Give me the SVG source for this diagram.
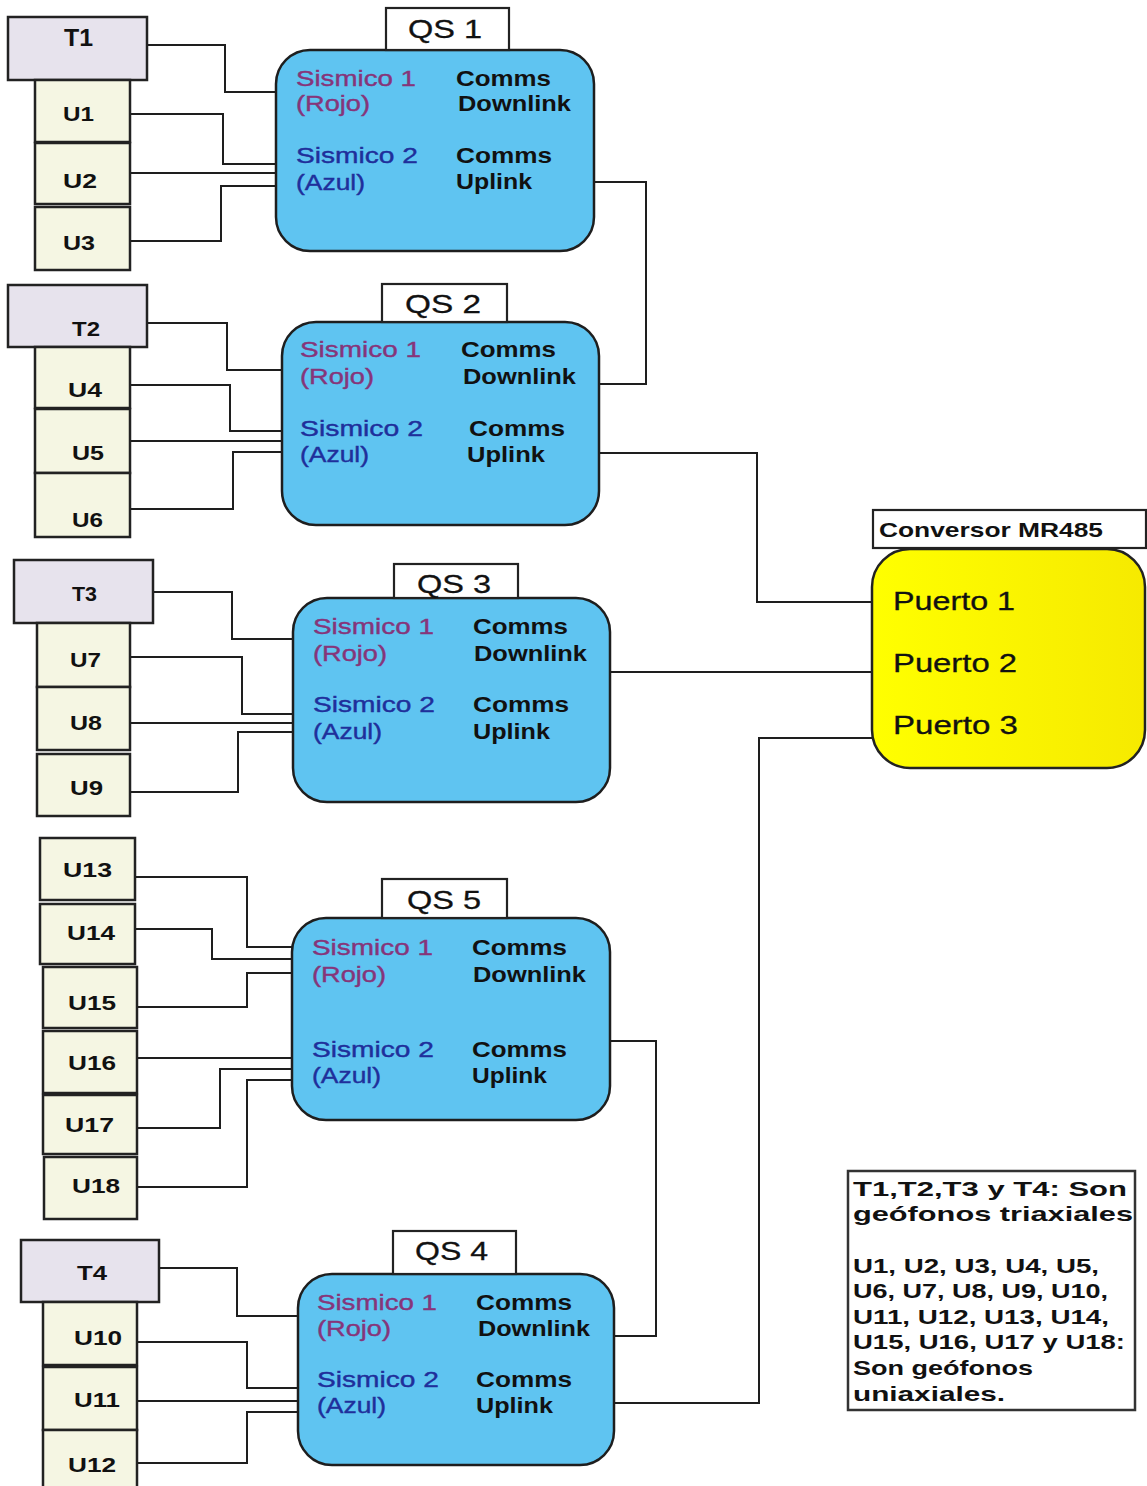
<svg xmlns="http://www.w3.org/2000/svg" width="1147" height="1486" viewBox="0 0 1147 1486">
  <defs>
    <style>
      .tbox { fill: #e7e3ed; stroke: #222; stroke-width: 2.5; }
      .ubox { fill: #f5f6e3; stroke: #222; stroke-width: 2.5; }
      .qs   { fill: #5fc4f1; stroke: #1e1e1e; stroke-width: 2.5; }
      .lbl  { fill: #fff; stroke: #222; stroke-width: 2.2; }
      .conv { fill: url(#yel); stroke: #222; stroke-width: 2.5; }
      .legend { fill: #fff; stroke: #333; stroke-width: 2.5; }
      .wire { fill: none; stroke: #1e1e1e; stroke-width: 2; }
      text { font-family: "Liberation Sans", Arial, sans-serif; }
      .tl { font-size: 20px; font-weight: bold; fill: #111; }
      .t1 { font-size: 24px; font-weight: bold; fill: #111; }
      .ul { font-size: 21px; font-weight: bold; fill: #111; }
      .qn { font-size: 25px; fill: #111; stroke: #111; stroke-width: 0.3; }
      .s1 { font-size: 22px; fill: #86357a; stroke: #86357a; stroke-width: 0.4; }
      .s2 { font-size: 22px; fill: #1f2f9b; stroke: #1f2f9b; stroke-width: 0.4; }
      .cm { font-size: 22px; font-weight: bold; fill: #111; }
      .pt { font-size: 25px; fill: #111; stroke: #111; stroke-width: 0.3; }
      .cv { font-size: 21px; font-weight: bold; fill: #111; }
      .lg { font-size: 21px; font-weight: bold; fill: #111; }
    </style>
    <linearGradient id="yel" x1="0" y1="0" x2="1" y2="0">
      <stop offset="0" stop-color="#ffff00"/>
      <stop offset="1" stop-color="#f6ea00"/>
    </linearGradient>
  </defs>

  <rect x="0" y="0" width="1147" height="1486" fill="#fff"/>

  <!-- wiring between geophones, QS units and the converter -->
  <g id="connectors">
    <path class="wire" d="M147,45 H225 V92 H276"/>
    <path class="wire" d="M130,114 H223 V164 H276"/>
    <path class="wire" d="M130,173 H276"/>
    <path class="wire" d="M130,241 H221 V186 H276"/>

    <path class="wire" d="M147,323 H227 V370 H282"/>
    <path class="wire" d="M130,385 H230 V431 H282"/>
    <path class="wire" d="M130,441 H282"/>
    <path class="wire" d="M130,509 H233 V452 H282"/>

    <path class="wire" d="M153,592 H232 V639 H293"/>
    <path class="wire" d="M130,657 H242 V714 H293"/>
    <path class="wire" d="M130,723 H293"/>
    <path class="wire" d="M130,792 H238 V732 H293"/>

    <path class="wire" d="M135,877 H247 V947 H292"/>
    <path class="wire" d="M135,929 H212 V959 H292"/>
    <path class="wire" d="M137,1007 H247 V973 H292"/>
    <path class="wire" d="M137,1058 H292"/>
    <path class="wire" d="M137,1128 H220 V1069 H292"/>
    <path class="wire" d="M137,1187 H247 V1080 H292"/>

    <path class="wire" d="M159,1268 H237 V1316 H298"/>
    <path class="wire" d="M137,1342 H247 V1388 H298"/>
    <path class="wire" d="M137,1401 H298"/>
    <path class="wire" d="M137,1463 H247 V1412 H298"/>

    <path class="wire" d="M594,182 H646 V384 H599"/>
    <path class="wire" d="M599,453 H757 V602 H872"/>
    <path class="wire" d="M610,672 H872"/>
    <path class="wire" d="M610,1041 H656 V1336 H614"/>
    <path class="wire" d="M614,1403 H759 V738 H872"/>
  </g>

  <!-- geophones, group 1 -->
  <g id="T1"><rect class="tbox" x="8" y="17" width="139" height="63"/><text class="t1" x="64" y="46" textLength="29" lengthAdjust="spacingAndGlyphs">T1</text></g>
  <g id="U1"><rect class="ubox" x="35" y="80" width="95" height="62"/><text class="ul" x="63" y="121" textLength="31" lengthAdjust="spacingAndGlyphs">U1</text></g>
  <g id="U2"><rect class="ubox" x="35" y="143" width="95" height="61"/><text class="ul" x="63" y="188" textLength="34" lengthAdjust="spacingAndGlyphs">U2</text></g>
  <g id="U3"><rect class="ubox" x="35" y="207" width="95" height="63"/><text class="ul" x="63" y="250" textLength="32" lengthAdjust="spacingAndGlyphs">U3</text></g>

  <!-- geophones, group 2 -->
  <g id="T2"><rect class="tbox" x="8" y="285" width="139" height="62"/><text class="tl" x="72" y="336" textLength="28" lengthAdjust="spacingAndGlyphs">T2</text></g>
  <g id="U4"><rect class="ubox" x="35" y="347" width="95" height="61"/><text class="ul" x="68" y="397" textLength="34" lengthAdjust="spacingAndGlyphs">U4</text></g>
  <g id="U5"><rect class="ubox" x="35" y="409" width="95" height="64"/><text class="ul" x="72" y="460" textLength="32" lengthAdjust="spacingAndGlyphs">U5</text></g>
  <g id="U6"><rect class="ubox" x="35" y="473" width="95" height="64"/><text class="ul" x="72" y="527" textLength="31" lengthAdjust="spacingAndGlyphs">U6</text></g>

  <!-- geophones, group 3 -->
  <g id="T3"><rect class="tbox" x="14" y="560" width="139" height="63"/><text class="tl" x="72" y="601" textLength="25" lengthAdjust="spacingAndGlyphs">T3</text></g>
  <g id="U7"><rect class="ubox" x="37" y="623" width="93" height="64"/><text class="ul" x="70" y="667" textLength="31" lengthAdjust="spacingAndGlyphs">U7</text></g>
  <g id="U8"><rect class="ubox" x="37" y="687" width="93" height="63"/><text class="ul" x="70" y="730" textLength="32" lengthAdjust="spacingAndGlyphs">U8</text></g>
  <g id="U9"><rect class="ubox" x="37" y="754" width="93" height="62"/><text class="ul" x="70" y="795" textLength="33" lengthAdjust="spacingAndGlyphs">U9</text></g>

  <!-- geophones, group 5 -->
  <g id="U13"><rect class="ubox" x="40" y="838" width="95" height="62"/><text class="ul" x="63" y="877" textLength="49" lengthAdjust="spacingAndGlyphs">U13</text></g>
  <g id="U14"><rect class="ubox" x="40" y="904" width="95" height="60"/><text class="ul" x="67" y="940" textLength="48" lengthAdjust="spacingAndGlyphs">U14</text></g>
  <g id="U15"><rect class="ubox" x="43" y="967" width="94" height="61"/><text class="ul" x="68" y="1010" textLength="48" lengthAdjust="spacingAndGlyphs">U15</text></g>
  <g id="U16"><rect class="ubox" x="43" y="1031" width="94" height="62"/><text class="ul" x="68" y="1070" textLength="48" lengthAdjust="spacingAndGlyphs">U16</text></g>
  <g id="U17"><rect class="ubox" x="43" y="1095" width="94" height="59"/><text class="ul" x="65" y="1132" textLength="49" lengthAdjust="spacingAndGlyphs">U17</text></g>
  <g id="U18"><rect class="ubox" x="44" y="1157" width="93" height="62"/><text class="ul" x="72" y="1193" textLength="48" lengthAdjust="spacingAndGlyphs">U18</text></g>

  <!-- geophones, group 4 -->
  <g id="T4"><rect class="tbox" x="21" y="1240" width="138" height="62"/><text class="tl" x="77" y="1280" textLength="30" lengthAdjust="spacingAndGlyphs">T4</text></g>
  <g id="U10"><rect class="ubox" x="43" y="1302" width="94" height="63"/><text class="ul" x="74" y="1345" textLength="48" lengthAdjust="spacingAndGlyphs">U10</text></g>
  <g id="U11"><rect class="ubox" x="43" y="1367" width="94" height="63"/><text class="ul" x="74" y="1407" textLength="46" lengthAdjust="spacingAndGlyphs">U11</text></g>
  <g id="U12"><rect class="ubox" x="43" y="1430" width="94" height="62"/><text class="ul" x="68" y="1472" textLength="48" lengthAdjust="spacingAndGlyphs">U12</text></g>

  <!-- QS recorders -->
  <g id="QS1">
    <rect class="qs" x="276" y="50" width="318" height="201" rx="34"/>
    <rect class="lbl" x="386" y="8" width="123" height="42"/>
    <text class="qn" x="408" y="38" textLength="74" lengthAdjust="spacingAndGlyphs">QS 1</text>
    <text class="s1" x="296" y="86" textLength="120" lengthAdjust="spacingAndGlyphs">Sismico 1</text>
    <text class="s1" x="296" y="111" textLength="74" lengthAdjust="spacingAndGlyphs">(Rojo)</text>
    <text class="s2" x="296" y="163" textLength="122" lengthAdjust="spacingAndGlyphs">Sismico 2</text>
    <text class="s2" x="296" y="190" textLength="69" lengthAdjust="spacingAndGlyphs">(Azul)</text>
    <text class="cm" x="456" y="86" textLength="95" lengthAdjust="spacingAndGlyphs">Comms</text>
    <text class="cm" x="458" y="111" textLength="113" lengthAdjust="spacingAndGlyphs">Downlink</text>
    <text class="cm" x="456" y="163" textLength="96" lengthAdjust="spacingAndGlyphs">Comms</text>
    <text class="cm" x="456" y="189" textLength="76" lengthAdjust="spacingAndGlyphs">Uplink</text>
  </g>

  <g id="QS2">
    <rect class="qs" x="282" y="322" width="317" height="203" rx="34"/>
    <rect class="lbl" x="382" y="284" width="125" height="38"/>
    <text class="qn" x="405" y="313" textLength="76" lengthAdjust="spacingAndGlyphs">QS 2</text>
    <text class="s1" x="300" y="357" textLength="121" lengthAdjust="spacingAndGlyphs">Sismico 1</text>
    <text class="s1" x="300" y="384" textLength="74" lengthAdjust="spacingAndGlyphs">(Rojo)</text>
    <text class="s2" x="300" y="436" textLength="123" lengthAdjust="spacingAndGlyphs">Sismico 2</text>
    <text class="s2" x="300" y="462" textLength="69" lengthAdjust="spacingAndGlyphs">(Azul)</text>
    <text class="cm" x="461" y="357" textLength="95" lengthAdjust="spacingAndGlyphs">Comms</text>
    <text class="cm" x="463" y="384" textLength="113" lengthAdjust="spacingAndGlyphs">Downlink</text>
    <text class="cm" x="469" y="436" textLength="96" lengthAdjust="spacingAndGlyphs">Comms</text>
    <text class="cm" x="467" y="462" textLength="78" lengthAdjust="spacingAndGlyphs">Uplink</text>
  </g>

  <g id="QS3">
    <rect class="qs" x="293" y="598" width="317" height="204" rx="34"/>
    <rect class="lbl" x="394" y="564" width="124" height="34"/>
    <text class="qn" x="417" y="593" textLength="74" lengthAdjust="spacingAndGlyphs">QS 3</text>
    <text class="s1" x="313" y="634" textLength="121" lengthAdjust="spacingAndGlyphs">Sismico 1</text>
    <text class="s1" x="313" y="661" textLength="74" lengthAdjust="spacingAndGlyphs">(Rojo)</text>
    <text class="s2" x="313" y="712" textLength="122" lengthAdjust="spacingAndGlyphs">Sismico 2</text>
    <text class="s2" x="313" y="739" textLength="69" lengthAdjust="spacingAndGlyphs">(Azul)</text>
    <text class="cm" x="473" y="634" textLength="95" lengthAdjust="spacingAndGlyphs">Comms</text>
    <text class="cm" x="474" y="661" textLength="113" lengthAdjust="spacingAndGlyphs">Downlink</text>
    <text class="cm" x="473" y="712" textLength="96" lengthAdjust="spacingAndGlyphs">Comms</text>
    <text class="cm" x="473" y="739" textLength="77" lengthAdjust="spacingAndGlyphs">Uplink</text>
  </g>

  <g id="QS5">
    <rect class="qs" x="292" y="918" width="318" height="202" rx="34"/>
    <rect class="lbl" x="382" y="879" width="125" height="39"/>
    <text class="qn" x="407" y="909" textLength="74" lengthAdjust="spacingAndGlyphs">QS 5</text>
    <text class="s1" x="312" y="955" textLength="121" lengthAdjust="spacingAndGlyphs">Sismico 1</text>
    <text class="s1" x="312" y="982" textLength="74" lengthAdjust="spacingAndGlyphs">(Rojo)</text>
    <text class="s2" x="312" y="1057" textLength="122" lengthAdjust="spacingAndGlyphs">Sismico 2</text>
    <text class="s2" x="312" y="1083" textLength="69" lengthAdjust="spacingAndGlyphs">(Azul)</text>
    <text class="cm" x="472" y="955" textLength="95" lengthAdjust="spacingAndGlyphs">Comms</text>
    <text class="cm" x="473" y="982" textLength="113" lengthAdjust="spacingAndGlyphs">Downlink</text>
    <text class="cm" x="472" y="1057" textLength="95" lengthAdjust="spacingAndGlyphs">Comms</text>
    <text class="cm" x="472" y="1083" textLength="75" lengthAdjust="spacingAndGlyphs">Uplink</text>
  </g>

  <g id="QS4">
    <rect class="qs" x="298" y="1274" width="316" height="191" rx="34"/>
    <rect class="lbl" x="393" y="1231" width="123" height="43"/>
    <text class="qn" x="415" y="1260" textLength="73" lengthAdjust="spacingAndGlyphs">QS 4</text>
    <text class="s1" x="317" y="1310" textLength="120" lengthAdjust="spacingAndGlyphs">Sismico 1</text>
    <text class="s1" x="317" y="1336" textLength="74" lengthAdjust="spacingAndGlyphs">(Rojo)</text>
    <text class="s2" x="317" y="1387" textLength="122" lengthAdjust="spacingAndGlyphs">Sismico 2</text>
    <text class="s2" x="317" y="1413" textLength="69" lengthAdjust="spacingAndGlyphs">(Azul)</text>
    <text class="cm" x="476" y="1310" textLength="96" lengthAdjust="spacingAndGlyphs">Comms</text>
    <text class="cm" x="478" y="1336" textLength="112" lengthAdjust="spacingAndGlyphs">Downlink</text>
    <text class="cm" x="476" y="1387" textLength="96" lengthAdjust="spacingAndGlyphs">Comms</text>
    <text class="cm" x="476" y="1413" textLength="77" lengthAdjust="spacingAndGlyphs">Uplink</text>
  </g>

  <!-- RS-485 converter -->
  <g id="conversor">
    <rect class="conv" x="872" y="549" width="273" height="219" rx="38"/>
    <rect class="lbl" x="873" y="510" width="273" height="38"/>
    <text class="cv" x="879" y="537" textLength="224" lengthAdjust="spacingAndGlyphs">Conversor MR485</text>
    <text class="pt" x="893" y="610" textLength="122" lengthAdjust="spacingAndGlyphs">Puerto 1</text>
    <text class="pt" x="893" y="672" textLength="124" lengthAdjust="spacingAndGlyphs">Puerto 2</text>
    <text class="pt" x="893" y="734" textLength="125" lengthAdjust="spacingAndGlyphs">Puerto 3</text>
  </g>

  <!-- legend -->
  <g id="leyenda">
    <rect class="legend" x="848" y="1171" width="287" height="239"/>
    <text class="lg" x="853" y="1196" textLength="274" lengthAdjust="spacingAndGlyphs">T1,T2,T3 y T4: Son</text>
    <text class="lg" x="853" y="1221" textLength="280" lengthAdjust="spacingAndGlyphs">geófonos triaxiales</text>
    <text class="lg" x="853" y="1273" textLength="246" lengthAdjust="spacingAndGlyphs">U1, U2, U3, U4, U5,</text>
    <text class="lg" x="853" y="1298" textLength="255" lengthAdjust="spacingAndGlyphs">U6, U7, U8, U9, U10,</text>
    <text class="lg" x="853" y="1324" textLength="256" lengthAdjust="spacingAndGlyphs">U11, U12, U13, U14,</text>
    <text class="lg" x="853" y="1349" textLength="272" lengthAdjust="spacingAndGlyphs">U15, U16, U17 y U18:</text>
    <text class="lg" x="853" y="1375" textLength="180" lengthAdjust="spacingAndGlyphs">Son geófonos</text>
    <text class="lg" x="853" y="1401" textLength="152" lengthAdjust="spacingAndGlyphs">uniaxiales.</text>
  </g>
</svg>
